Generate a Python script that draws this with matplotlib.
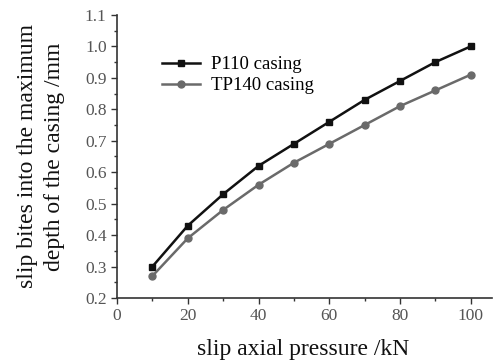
import matplotlib
matplotlib.use("Agg")
import matplotlib.pyplot as plt
from matplotlib.ticker import MultipleLocator

pressure = [10, 20, 30, 40, 50, 60, 70, 80, 90, 100]
p110 = [0.30, 0.43, 0.53, 0.62, 0.69, 0.76, 0.83, 0.89, 0.95, 1.00]
tp140 = [0.27, 0.39, 0.48, 0.56, 0.63, 0.69, 0.75, 0.81, 0.86, 0.91]

plt.rcParams['font.family'] = ['Liberation Serif', 'DejaVu Serif']

fig = plt.figure(figsize=(4.98, 3.63), dpi=100)
ax = fig.add_axes([0.235, 0.179, 0.753, 0.78])

ax.plot(pressure, p110, color='#111111', marker='s', markersize=5, lw=1.8, label='P110 casing')
ax.plot(pressure, tp140, color='#6a6a6a', marker='o', markersize=5, lw=1.8, label='TP140 casing')

ax.set_xlim(0, 106)
ax.set_ylim(0.2, 1.1)
ax.xaxis.set_major_locator(MultipleLocator(20))
ax.xaxis.set_minor_locator(MultipleLocator(10))
ax.yaxis.set_major_locator(MultipleLocator(0.1))
ax.yaxis.set_minor_locator(MultipleLocator(0.05))
ax.yaxis.set_major_formatter(matplotlib.ticker.FormatStrFormatter('%.1f'))

for s in ['top', 'right']:
    ax.spines[s].set_visible(False)
for s in ['left', 'bottom']:
    ax.spines[s].set_color('#333333')
    ax.spines[s].set_linewidth(1.2)

ax.tick_params(which='major', direction='out', length=4, width=1, colors='#333333', labelsize=12.5, labelcolor='#555555')
ax.tick_params(which='minor', direction='out', length=2, width=1, colors='#333333')

ax.set_xlabel('slip axial pressure /kN', fontsize=17, color='#111111')
ax.xaxis.set_label_coords(0.496, -0.145)
ax.set_ylabel('slip bites into the maximum\ndepth of the casing /mm', fontsize=17, color='#111111', linespacing=1.35)
ax.yaxis.set_label_coords(-0.14, 0.5)

ax.legend(loc='upper left', bbox_to_anchor=(0.1, 0.88), frameon=False, fontsize=13.5, handlelength=2.0, handletextpad=0.6, borderaxespad=0, labelspacing=0.2)

fig.savefig('out.png', dpi=100)
